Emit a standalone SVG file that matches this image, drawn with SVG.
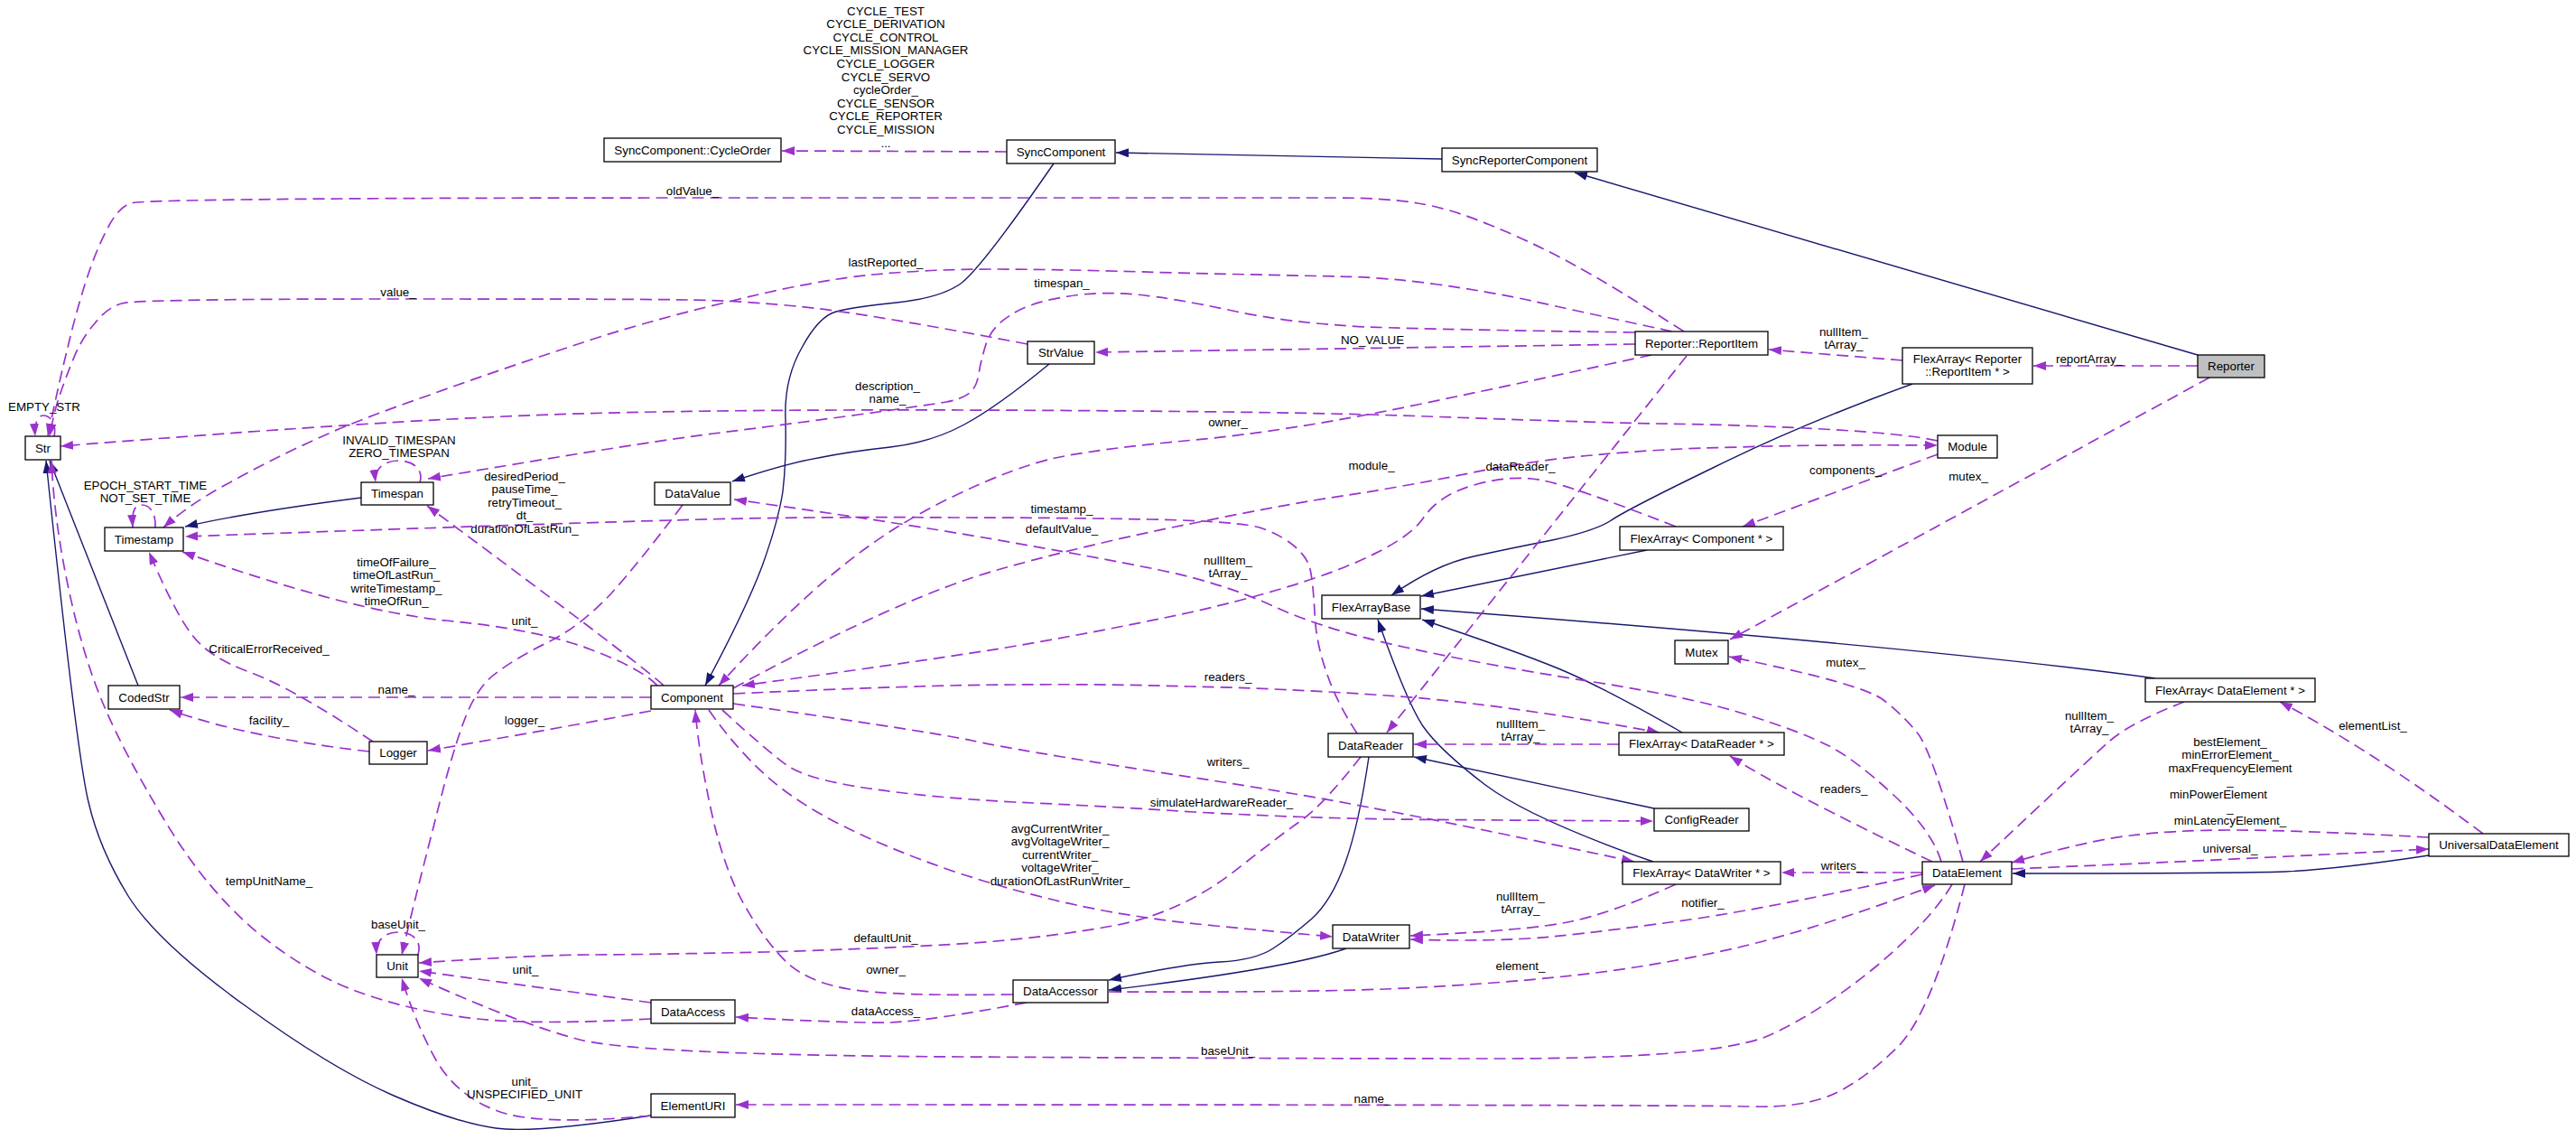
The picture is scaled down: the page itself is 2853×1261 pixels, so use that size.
<svg xmlns="http://www.w3.org/2000/svg" width="2853" height="1261" viewBox="0 0 2853 1261">
<style>
text{font-family:"Liberation Sans",Arial,Helvetica,sans-serif;font-size:13.33px;fill:#000;text-anchor:middle}
.n rect{fill:#fff;stroke:#000;stroke-width:1.3}
.n rect.cur{fill:#bfbfbf}
.u{fill:none;stroke:#9a32cd;stroke-width:1.7;stroke-dasharray:13,7;marker-end:url(#ap)}
.i{fill:none;stroke:#191970;stroke-width:1.4;marker-end:url(#ab)}
</style>
<defs>
<marker id="ap" markerUnits="userSpaceOnUse" markerWidth="15" markerHeight="11" refX="14" refY="5" orient="auto"><path d="M0,0 L14,5 L0,10 z" fill="#9a32cd"/></marker>
<marker id="ab" markerUnits="userSpaceOnUse" markerWidth="15" markerHeight="11" refX="14" refY="5" orient="auto"><path d="M0,0 L14,5 L0,10 z" fill="#191970"/></marker>
</defs>
<rect width="2853" height="1261" fill="#fff"/>
<g id="edges">
<!-- inheritance -->
<path class="i" d="M1597,176 L1236,169"/>
<path class="i" d="M2434,393 L1744,191"/>
<path class="i" d="M1167,181 Q1087,297 1064,314 Q1041,330 993,335 Q944,340 926,345 Q907,350 888,385 Q868,420 870,465 Q871,510 867,544 Q862,577 844,627 Q825,677 781,759"/>
<path class="i" d="M1162,403 Q1105,450 1068,470 Q1031,490 986,495 Q940,500 906,507 Q871,513 811,533"/>
<path class="i" d="M400,551 Q275,567 205,583"/>
<path class="i" d="M153,759 L55,510"/>
<path class="i" d="M721,1235 Q592,1255 549,1249 Q505,1243 436,1213 Q367,1183 271,1113 Q174,1043 142,992 Q110,940 98,888 Q85,835 51,510"/>
<path class="i" d="M2118,425 Q1994,470 1897,518 Q1800,565 1783,577 Q1765,588 1719,598 Q1673,607 1632,616 Q1590,625 1541,659"/>
<path class="i" d="M1824,609 L1574,660"/>
<path class="i" d="M2387,751 Q2140,717 1574,674"/>
<path class="i" d="M1863,811 Q1778,762 1728,741 Q1677,720 1575,686"/>
<path class="i" d="M1831,954 Q1696,907 1645,869 Q1594,830 1576,804 Q1558,777 1526,686"/>
<path class="i" d="M1832,895 L1566,838"/>
<path class="i" d="M1516,838 Q1505,913 1490,955 Q1475,997 1453,1017 Q1430,1037 1410,1050 Q1390,1063 1351,1065 Q1312,1067 1228,1085"/>
<path class="i" d="M1491,1050 Q1430,1072 1228,1096"/>
<path class="i" d="M2690,947 Q2591,962 2531,965 Q2471,967 2229,967"/>
<!-- usage -->
<path class="u" d="M1115,168 L866,167"/>
<path class="u" d="M2434,405 L2252,405"/>
<path class="u" d="M2107,399 L1959,387"/>
<path class="u" d="M2447,418 L1916,708"/>
<path class="u" d="M1865,367 Q1787,317 1741,292 Q1695,267 1650,249 Q1604,230 1570,225 Q1535,219 1478,219 Q1420,219 790,219 Q160,219 145,225 Q130,230 118,255 Q105,280 94,315 Q83,350 75,385 Q66,420 53,483"/>
<path class="u" d="M1138,381 Q940,343 871,338 Q802,332 761,332 Q720,331 435,331 Q150,331 135,336 Q119,340 105,358 Q90,375 81,398 Q72,420 66,438 Q60,455 55,483"/>
<path class="u" d="M1852,367 Q1741,343 1696,333 Q1650,323 1593,315 Q1535,307 1483,306 Q1430,305 1300,302 Q1169,298 1100,298 Q1031,298 967,304 Q903,310 807,334 Q710,357 631,384 Q551,410 471,439 Q390,467 344,489 Q298,510 255,534 Q211,557 181,584"/>
<path class="u" d="M1811,368 Q1600,365 1515,362 Q1430,358 1365,344 Q1300,330 1258,326 Q1215,322 1178,329 Q1140,335 1119,349 Q1098,362 1092,381 Q1086,400 1084,414 Q1082,428 1074,435 Q1065,442 1048,445 Q1031,448 951,459 Q870,470 790,480 Q710,490 474,530"/>
<path class="u" d="M1811,381 Q1420,387 1213,390"/>
<path class="u" d="M1829,393 Q1709,419 1570,448 Q1430,477 1323,487 Q1215,497 1169,507 Q1123,517 1055,550 Q986,583 929,630 Q871,677 796,759"/>
<path class="u" d="M1868,394 L1536,811"/>
<path class="u" d="M2146,488 Q2110,480 2018,475 Q1925,470 1833,469 Q1741,467 1581,461 Q1420,455 1065,454 Q710,453 539,462 Q367,470 67,494"/>
<path class="u" d="M812,762 Q1000,660 1108,630 Q1215,600 1323,579 Q1430,557 1494,548 Q1558,538 1627,524 Q1695,510 1764,504 Q1833,497 1925,495 Q2017,492 2146,493"/>
<path class="u" d="M2146,503 L1930,583"/>
<path class="u" d="M1856,583 Q1741,538 1709,532 Q1677,525 1636,536 Q1594,547 1576,574 Q1558,600 1489,628 Q1420,655 1318,678 Q1215,700 1108,718 Q1000,735 822,759"/>
<path class="u" d="M2150,954 Q2140,920 2097,880 Q2054,840 2024,825 Q1994,810 1937,792 Q1879,773 1765,755 Q1650,737 1558,717 Q1466,697 1410,671 Q1353,645 1284,631 Q1215,617 1100,597 Q985,577 813,553"/>
<path class="u" d="M1503,812 Q1480,777 1469,744 Q1457,710 1456,677 Q1454,643 1451,630 Q1448,617 1434,605 Q1420,593 1398,585 Q1376,577 1273,575 Q1169,573 1055,573 Q940,572 825,574 Q710,576 205,594"/>
<path class="u" d="M735,759 Q720,743 473,560"/>
<path class="u" d="M728,759 Q710,740 654,719 Q597,697 494,687 Q390,677 202,611"/>
<path class="u" d="M721,772 L200,772"/>
<path class="u" d="M721,787 Q597,810 474,831"/>
<path class="u" d="M409,832 Q276,817 188,786"/>
<path class="u" d="M413,821 Q321,760 276,744 Q230,727 212,702 Q193,677 165,611"/>
<path class="u" d="M756,559 Q710,620 677,657 Q643,693 609,710 Q574,727 551,744 Q528,760 514,798 Q500,835 480,916 Q459,997 445,1057"/>
<path class="u" d="M721,1128 Q597,1135 528,1128 Q459,1120 402,1100 Q344,1080 287,1034 Q230,987 184,911 Q138,835 115,781 Q92,727 76,652 Q60,577 57,510"/>
<path class="u" d="M721,1110 Q551,1087 464,1075"/>
<path class="u" d="M2162,979 Q2140,1017 2079,1069 Q2017,1120 1960,1146 Q1902,1172 1661,1172 Q1420,1172 1065,1170 Q710,1168 642,1151 Q574,1133 464,1083"/>
<path class="u" d="M721,1235 Q597,1247 551,1230 Q505,1213 482,1172 Q459,1130 445,1083"/>
<path class="u" d="M2176,979 Q2140,1120 2102,1159 Q2063,1197 2029,1212 Q1994,1227 1937,1225 Q1879,1223 815,1223"/>
<path class="u" d="M1122,1101 Q985,1103 940,1095 Q894,1087 871,1065 Q848,1043 825,1003 Q802,963 788,899 Q774,835 770,786"/>
<path class="u" d="M1137,1110 Q1031,1130 986,1132 Q940,1133 815,1126"/>
<path class="u" d="M1228,1098 Q1420,1099 1535,1095 Q1650,1090 1742,1080 Q1833,1070 1925,1049 Q2017,1027 2143,980"/>
<path class="u" d="M2129,968 Q1971,1003 1879,1017 Q1787,1030 1719,1037 Q1650,1043 1562,1040"/>
<path class="u" d="M1856,979 Q1787,1010 1741,1020 Q1695,1030 1562,1036"/>
<path class="u" d="M2129,966 L1973,966"/>
<path class="u" d="M2140,954 Q1971,873 1916,837"/>
<path class="u" d="M2174,954 Q2139,830 2124,812 Q2109,793 2086,775 Q2063,757 1915,727"/>
<path class="u" d="M2419,777 Q2360,800 2337,820 Q2314,840 2193,954"/>
<path class="u" d="M2750,923 Q2626,830 2525,777"/>
<path class="u" d="M2690,927 Q2543,919 2475,919 Q2406,919 2360,925 Q2314,930 2228,955"/>
<path class="u" d="M2228,962 Q2470,952 2690,940"/>
<path class="u" d="M812,768 Q1031,758 1123,758 Q1215,757 1318,760 Q1420,762 1535,770 Q1650,777 1838,811"/>
<path class="u" d="M1793,824 L1566,824"/>
<path class="u" d="M812,779 Q1031,810 1077,820 Q1123,830 1277,854 Q1430,877 1517,894 Q1604,910 1810,954"/>
<path class="u" d="M800,786 Q848,830 871,847 Q894,863 963,873 Q1031,883 1123,888 Q1215,892 1323,899 Q1430,905 1540,907 Q1650,908 1831,909"/>
<path class="u" d="M785,786 Q816,830 850,860 Q884,890 935,915 Q985,940 1054,964 Q1123,987 1192,1002 Q1261,1017 1346,1025 Q1430,1033 1476,1037"/>
<path class="u" d="M1507,838 Q1466,890 1443,907 Q1420,923 1364,967 Q1307,1010 1238,1024 Q1169,1037 1078,1044 Q986,1050 848,1054 Q710,1057 654,1057 Q597,1057 464,1066"/>
<!-- self loops -->
<path class="u" d="M60,483 C63,468 55,460 48,460 C41,460 38,470 39,483"/>
<path class="u" d="M172,584 C173,568 166,559 157,559 C148,559 146,568 147,584"/>
<path class="u" d="M465,534 C470,518 455,510 441,510 C427,510 414,518 416,534"/>
<path class="u" d="M463,1057 C468,1040 455,1032 441,1032 C427,1032 416,1040 417,1057"/>
</g>
<g id="edge-labels">
<text x="981" y="16.5"><tspan x="981">CYCLE_TEST</tspan><tspan x="981" dy="14.6">CYCLE_DERIVATION</tspan><tspan x="981" dy="14.6">CYCLE_CONTROL</tspan><tspan x="981" dy="14.6">CYCLE_MISSION_MANAGER</tspan><tspan x="981" dy="14.6">CYCLE_LOGGER</tspan><tspan x="981" dy="14.6">CYCLE_SERVO</tspan><tspan x="981" dy="14.6">cycleOrder_</tspan><tspan x="981" dy="14.6">CYCLE_SENSOR</tspan><tspan x="981" dy="14.6">CYCLE_REPORTER</tspan><tspan x="981" dy="14.6">CYCLE_MISSION</tspan><tspan x="981" dy="14.6">...</tspan></text>
<text x="767" y="215.5">oldValue_</text>
<text x="441" y="327.5">value_</text>
<text x="981" y="294.5">lastReported_</text>
<text x="1176" y="317.5">timespan_</text>
<text x="1520" y="380.5">NO_VALUE</text>
<text x="2042" y="371.5"><tspan x="2042">nullItem_</tspan><tspan x="2042" dy="14.6">tArray_</tspan></text>
<text x="2314" y="401.5">reportArray_</text>
<text x="983" y="431.5"><tspan x="983">description_</tspan><tspan x="983" dy="14.6">name_</tspan></text>
<text x="1360" y="471.5">owner_</text>
<text x="1519" y="519.5">module_</text>
<text x="1684" y="520.5">dataReader_</text>
<text x="2044" y="524.5">components_</text>
<text x="2180" y="531.5">mutex_</text>
<text x="49" y="454.5">EMPTY_STR</text>
<text x="442" y="491.5"><tspan x="442">INVALID_TIMESPAN</tspan><tspan x="442" dy="14.6">ZERO_TIMESPAN</tspan></text>
<text x="161" y="541.5"><tspan x="161">EPOCH_START_TIME</tspan><tspan x="161" dy="14.6">NOT_SET_TIME</tspan></text>
<text x="581" y="531.5"><tspan x="581">desiredPeriod_</tspan><tspan x="581" dy="14.6">pauseTime_</tspan><tspan x="581" dy="14.6">retryTimeout_</tspan><tspan x="581" dy="14.6">dt_</tspan><tspan x="581" dy="14.6">durationOfLastRun_</tspan></text>
<text x="1176" y="567.5">timestamp_</text>
<text x="1176" y="589.5">defaultValue_</text>
<text x="1360" y="624.5"><tspan x="1360">nullItem_</tspan><tspan x="1360" dy="14.6">tArray_</tspan></text>
<text x="439" y="626.5"><tspan x="439">timeOfFailure_</tspan><tspan x="439" dy="14.6">timeOfLastRun_</tspan><tspan x="439" dy="14.6">writeTimestamp_</tspan><tspan x="439" dy="14.6">timeOfRun_</tspan></text>
<text x="581" y="691.5">unit_</text>
<text x="298" y="722.5">CriticalErrorReceived_</text>
<text x="2044" y="737.5">mutex_</text>
<text x="1360" y="753.5">readers_</text>
<text x="439" y="767.5">name_</text>
<text x="298" y="801.5">facility_</text>
<text x="581" y="801.5">logger_</text>
<text x="2314" y="796.5"><tspan x="2314">nullItem_</tspan><tspan x="2314" dy="14.6">tArray_</tspan></text>
<text x="2470" y="825.5"><tspan x="2470">bestElement_</tspan><tspan x="2470" dy="14.6">minErrorElement_</tspan><tspan x="2470" dy="14.6">maxFrequencyElement</tspan><tspan x="2470" dy="14.6">_</tspan><tspan x="2457" dy="14.6">minPowerElement</tspan><tspan x="2470" dy="14.6">_</tspan><tspan x="2470" dy="14.6">minLatencyElement_</tspan></text>
<text x="2628" y="807.5">elementList_</text>
<text x="1684" y="805.5"><tspan x="1684">nullItem_</tspan><tspan x="1684" dy="14.6">tArray_</tspan></text>
<text x="1360" y="847.5">writers_</text>
<text x="2042" y="877.5">readers_</text>
<text x="1353" y="892.5">simulateHardwareReader_</text>
<text x="1174" y="921.5"><tspan x="1174">avgCurrentWriter_</tspan><tspan x="1174" dy="14.6">avgVoltageWriter_</tspan><tspan x="1174" dy="14.6">currentWriter_</tspan><tspan x="1174" dy="14.6">voltageWriter_</tspan><tspan x="1174" dy="14.6">durationOfLastRunWriter_</tspan></text>
<text x="2470" y="943.5">universal_</text>
<text x="2040" y="962.5">writers_</text>
<text x="298" y="979.5">tempUnitName_</text>
<text x="1684" y="996.5"><tspan x="1684">nullItem_</tspan><tspan x="1684" dy="14.6">tArray_</tspan></text>
<text x="1886" y="1003.5">notifier_</text>
<text x="441" y="1027.5">baseUnit_</text>
<text x="981" y="1042.5">defaultUnit_</text>
<text x="1684" y="1073.5">element_</text>
<text x="981" y="1077.5">owner_</text>
<text x="582" y="1077.5">unit_</text>
<text x="981" y="1123.5">dataAccess_</text>
<text x="1360" y="1167.5">baseUnit_</text>
<text x="581" y="1201.5"><tspan x="581">unit_</tspan><tspan x="581" dy="14.6">UNSPECIFIED_UNIT</tspan></text>
<text x="1520" y="1220.5">name_</text>
</g>
<g id="node-Reporter" class="n"><rect class="cur" x="2434" y="393" width="74" height="25"/><text x="2471" y="410">Reporter</text></g>
<g id="node-SyncReporterComponent" class="n"><rect x="1597" y="164" width="172" height="26"/><text x="1683" y="181.5">SyncReporterComponent</text></g>
<g id="node-SyncComponent" class="n"><rect x="1115" y="155" width="120" height="26"/><text x="1175" y="172.5">SyncComponent</text></g>
<g id="node-CycleOrder" class="n"><rect x="669" y="153" width="196" height="26"/><text x="767" y="170.5">SyncComponent::CycleOrder</text></g>
<g id="node-FlexArrayReportItem" class="n"><rect x="2107" y="385" width="144" height="40"/><text x="2179" y="401.5"><tspan x="2179">FlexArray&lt; Reporter</tspan><tspan x="2179" dy="14.6">::ReportItem * &gt;</tspan></text></g>
<g id="node-ReportItem" class="n"><rect x="1811" y="367" width="147" height="26"/><text x="1884.5" y="384.5">Reporter::ReportItem</text></g>
<g id="node-StrValue" class="n"><rect x="1138" y="378" width="74" height="25"/><text x="1175" y="395">StrValue</text></g>
<g id="node-Str" class="n"><rect x="28" y="483" width="39" height="26"/><text x="47.5" y="500.5">Str</text></g>
<g id="node-Timestamp" class="n"><rect x="116" y="584" width="87" height="26"/><text x="159.5" y="601.5">Timestamp</text></g>
<g id="node-Timespan" class="n"><rect x="400" y="534" width="80" height="25"/><text x="440" y="551">Timespan</text></g>
<g id="node-DataValue" class="n"><rect x="725" y="534" width="84" height="25"/><text x="767" y="551">DataValue</text></g>
<g id="node-CodedStr" class="n"><rect x="120" y="759" width="79" height="26"/><text x="159.5" y="776.5">CodedStr</text></g>
<g id="node-Logger" class="n"><rect x="409" y="821" width="64" height="25"/><text x="441" y="838">Logger</text></g>
<g id="node-Component" class="n"><rect x="721" y="759" width="91" height="26"/><text x="766.5" y="776.5">Component</text></g>
<g id="node-Module" class="n"><rect x="2146" y="482" width="66" height="25"/><text x="2179" y="499">Module</text></g>
<g id="node-FlexArrayComponent" class="n"><rect x="1794" y="583" width="181" height="26"/><text x="1884.5" y="600.5">FlexArray&lt; Component * &gt;</text></g>
<g id="node-FlexArrayBase" class="n"><rect x="1464" y="659" width="109" height="26"/><text x="1518.5" y="676.5">FlexArrayBase</text></g>
<g id="node-Mutex" class="n"><rect x="1855" y="709" width="59" height="26"/><text x="1884.5" y="726.5">Mutex</text></g>
<g id="node-DataReader" class="n"><rect x="1471" y="812" width="94" height="26"/><text x="1518" y="829.5">DataReader</text></g>
<g id="node-FlexArrayDataReader" class="n"><rect x="1793" y="811" width="183" height="25"/><text x="1884.5" y="828">FlexArray&lt; DataReader * &gt;</text></g>
<g id="node-FlexArrayDataElement" class="n"><rect x="2376" y="751" width="188" height="26"/><text x="2470" y="768.5">FlexArray&lt; DataElement * &gt;</text></g>
<g id="node-ConfigReader" class="n"><rect x="1832" y="895" width="105" height="25"/><text x="1884.5" y="912">ConfigReader</text></g>
<g id="node-FlexArrayDataWriter" class="n"><rect x="1797" y="954" width="175" height="25"/><text x="1884.5" y="971">FlexArray&lt; DataWriter * &gt;</text></g>
<g id="node-DataWriter" class="n"><rect x="1476" y="1024" width="85" height="26"/><text x="1518.5" y="1041.5">DataWriter</text></g>
<g id="node-DataElement" class="n"><rect x="2129" y="954" width="99" height="25"/><text x="2178.5" y="971">DataElement</text></g>
<g id="node-UniversalDataElement" class="n"><rect x="2690" y="923" width="155" height="25"/><text x="2767.5" y="940">UniversalDataElement</text></g>
<g id="node-DataAccessor" class="n"><rect x="1122" y="1085" width="105" height="25"/><text x="1174.5" y="1102">DataAccessor</text></g>
<g id="node-DataAccess" class="n"><rect x="721" y="1107" width="93" height="26"/><text x="767.5" y="1124.5">DataAccess</text></g>
<g id="node-ElementURI" class="n"><rect x="721" y="1211" width="93" height="26"/><text x="767.5" y="1228.5">ElementURI</text></g>
<g id="node-Unit" class="n"><rect x="417" y="1057" width="46" height="25"/><text x="440" y="1074">Unit</text></g>
</svg>
